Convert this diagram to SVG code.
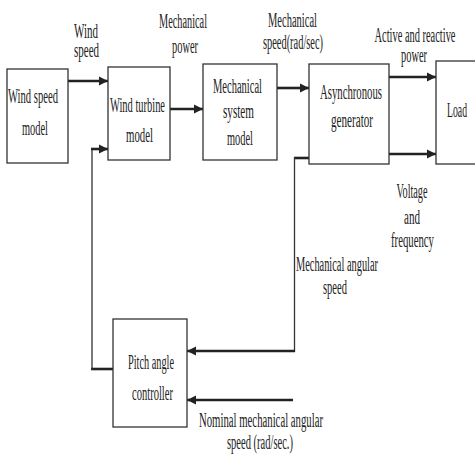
<svg xmlns="http://www.w3.org/2000/svg" width="475" height="457" viewBox="0 0 475 457">
<style>
.box{fill:#fff;stroke:#333;stroke-width:1.3}
.t{font-family:"Liberation Serif","Times New Roman",serif;font-size:20.5px;fill:#222;text-anchor:middle}
.w{fill:none;stroke:#222;stroke-width:2.6}
.th{fill:none;stroke:#333;stroke-width:1.3}
</style>
<defs>
<marker id="ah" viewBox="0 0 10 10" refX="10" refY="5" markerWidth="3.6" markerHeight="3.6" markerUnits="strokeWidth" orient="auto">
<path d="M0,0 L10,5 L0,10 z" fill="#222"/>
</marker>
</defs>
<rect width="475" height="457" fill="#fff"/>
<g id="connectors">
<line class="w" x1="68" y1="81" x2="108" y2="81" marker-end="url(#ah)"/>
<line class="w" x1="170" y1="109" x2="203" y2="109" marker-end="url(#ah)"/>
<line class="w" x1="277" y1="88" x2="309" y2="88" marker-end="url(#ah)"/>
<line class="w" x1="389" y1="77" x2="436" y2="77" marker-end="url(#ah)"/>
<line class="w" x1="389" y1="154" x2="436" y2="154" marker-end="url(#ah)"/>
<line class="w" x1="309" y1="158" x2="294" y2="158"/>
<line class="th" x1="294.5" y1="157" x2="294.5" y2="352"/>
<line class="w" x1="295" y1="351" x2="187" y2="351" marker-end="url(#ah)"/>
<line class="w" x1="113" y1="369" x2="91" y2="369"/>
<line class="th" x1="92" y1="370" x2="92" y2="148"/>
<line class="w" x1="91" y1="149" x2="108" y2="149" marker-end="url(#ah)"/>
<line class="w" x1="293" y1="400" x2="187" y2="400" marker-end="url(#ah)"/>
</g>
<g id="wind-speed-model">
<rect class="box" x="7" y="69" width="61" height="94"/>
<text class="t" x="33" y="103" textLength="50" lengthAdjust="spacingAndGlyphs">Wind speed</text>
<text class="t" x="35" y="135" textLength="26" lengthAdjust="spacingAndGlyphs">model</text>
</g>
<g id="wind-turbine-model">
<rect class="box" x="108" y="67" width="62" height="93"/>
<text class="t" x="137.5" y="112" textLength="55" lengthAdjust="spacingAndGlyphs">Wind turbine</text>
<text class="t" x="139.5" y="142" textLength="27" lengthAdjust="spacingAndGlyphs">model</text>
</g>
<g id="mechanical-system-model">
<rect class="box" x="203" y="64" width="74" height="96"/>
<text class="t" x="237.5" y="93" textLength="49" lengthAdjust="spacingAndGlyphs">Mechanical</text>
<text class="t" x="238.5" y="118" textLength="31" lengthAdjust="spacingAndGlyphs">system</text>
<text class="t" x="240" y="145" textLength="26" lengthAdjust="spacingAndGlyphs">model</text>
</g>
<g id="asynchronous-generator">
<rect class="box" x="309" y="64" width="80" height="100"/>
<text class="t" x="351" y="99" textLength="62" lengthAdjust="spacingAndGlyphs">Asynchronous</text>
<text class="t" x="352" y="127" textLength="42" lengthAdjust="spacingAndGlyphs">generator</text>
</g>
<g id="load">
<rect class="box" x="436" y="61" width="45" height="103"/>
<text class="t" x="457" y="117" textLength="20" lengthAdjust="spacingAndGlyphs">Load</text>
</g>
<g id="pitch-angle-controller">
<rect class="box" x="113" y="319" width="74" height="108"/>
<text class="t" x="151" y="369" textLength="46" lengthAdjust="spacingAndGlyphs">Pitch angle</text>
<text class="t" x="152.5" y="400" textLength="41" lengthAdjust="spacingAndGlyphs">controller</text>
</g>
<g id="labels">
<text class="t" x="86" y="38" textLength="24" lengthAdjust="spacingAndGlyphs">Wind</text>
<text class="t" x="86.5" y="57" textLength="25" lengthAdjust="spacingAndGlyphs">speed</text>
<text class="t" x="183" y="28" textLength="48" lengthAdjust="spacingAndGlyphs">Mechanical</text>
<text class="t" x="185" y="53" textLength="26" lengthAdjust="spacingAndGlyphs">power</text>
<text class="t" x="292.5" y="27" textLength="49" lengthAdjust="spacingAndGlyphs">Mechanical</text>
<text class="t" x="293" y="49" textLength="60" lengthAdjust="spacingAndGlyphs">speed(rad/sec)</text>
<text class="t" x="415" y="42" textLength="81" lengthAdjust="spacingAndGlyphs">Active and reactive</text>
<text class="t" x="414" y="62" textLength="26" lengthAdjust="spacingAndGlyphs">power</text>
<text class="t" x="412" y="198" textLength="31" lengthAdjust="spacingAndGlyphs">Voltage</text>
<text class="t" x="412" y="224" textLength="16" lengthAdjust="spacingAndGlyphs">and</text>
<text class="t" x="412.5" y="247" textLength="43" lengthAdjust="spacingAndGlyphs">frequency</text>
<text class="t" x="337" y="271" textLength="82" lengthAdjust="spacingAndGlyphs">Mechanical angular</text>
<text class="t" x="335" y="294" textLength="24" lengthAdjust="spacingAndGlyphs">speed</text>
<text class="t" x="261" y="427" textLength="124" lengthAdjust="spacingAndGlyphs">Nominal mechanical  angular</text>
<text class="t" x="260" y="449" textLength="66" lengthAdjust="spacingAndGlyphs">speed (rad/sec.)</text>
</g>
</svg>
